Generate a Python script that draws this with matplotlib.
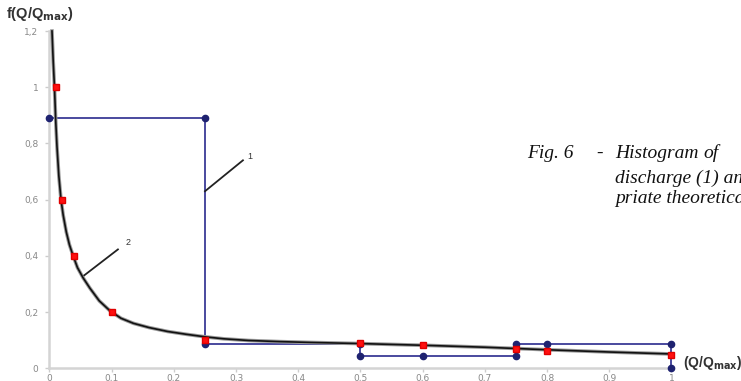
import matplotlib
matplotlib.use("Agg")
import matplotlib.pyplot as plt

# histogram of the observed discharge (1)
hist_x = [0, 0.25, 0.25, 0.5, 0.5, 0.6, 0.75, 0.75, 0.8, 1.0, 1.0]
hist_y = [0.89, 0.89, 0.085, 0.085, 0.043, 0.043, 0.043, 0.085, 0.085, 0.085, 0]

# empirical points
pts_x = [0.01, 0.02, 0.04, 0.1, 0.25, 0.5, 0.6, 0.75, 0.8, 1.0]
pts_y = [1.0, 0.6, 0.4, 0.2, 0.1, 0.09, 0.082, 0.068, 0.062, 0.047]

# theoretical curve (2)
curve_x = [0.004, 0.006, 0.008, 0.01, 0.012, 0.015, 0.0185, 0.022, 0.027, 0.032,
           0.038, 0.045, 0.054, 0.065, 0.08, 0.097, 0.115, 0.135, 0.16, 0.19,
           0.22, 0.25, 0.28, 0.32, 0.37, 0.42, 0.5, 0.6, 0.7, 0.8, 0.9, 1.0]
curve_y = [1.2, 1.09, 1.0, 0.88, 0.79, 0.685, 0.6, 0.545, 0.485, 0.44,
           0.4, 0.358, 0.322, 0.285, 0.24, 0.205, 0.178, 0.16, 0.145, 0.131,
           0.121, 0.112, 0.105, 0.099, 0.095, 0.092, 0.088, 0.082, 0.075, 0.066,
           0.058, 0.051]

x_ticks = [0, 0.1, 0.2, 0.3, 0.4, 0.5, 0.6, 0.7, 0.8, 0.9, 1.0]
y_ticks = [0, 0.2, 0.4, 0.6, 0.8, 1.0, 1.2]


def comma(v):
    s = "%g" % v
    return s.replace(".", ",")


fig = plt.figure(figsize=(7.41, 3.81), dpi=100)
ax = fig.add_axes([0.0668, 0.0333, 0.8394, 0.8853])

ax.plot(hist_x, hist_y, color="#3a3a96", linewidth=1.3, marker="o",
        markersize=4.5, markerfacecolor="#1e2270", markeredgecolor="#1e2270",
        clip_on=False, zorder=3)
ax.plot(curve_x, curve_y, color="#9a9a9a", linewidth=2.6, clip_on=False, zorder=4)
ax.plot(curve_x, curve_y, color="#111111", linewidth=1.2, clip_on=False, zorder=5)
ax.plot(pts_x, pts_y, linestyle="none", marker="s", markersize=5,
        markerfacecolor="#ff1010", markeredgecolor="#e00000", clip_on=False, zorder=6)

# leader lines for the labels
ax.plot([0.25, 0.311], [0.63, 0.74], color="#222222", linewidth=1.3, zorder=4)
ax.text(0.318, 0.745, "1", fontsize=6.5, color="#333333", family="Liberation Sans")
ax.plot([0.056, 0.11], [0.331, 0.423], color="#222222", linewidth=1.3, zorder=4)
ax.text(0.122, 0.44, "2", fontsize=6.5, color="#333333", family="Liberation Sans")

ax.set_xlim(0, 1.0)
ax.set_ylim(0, 1.2)
ax.set_xticks(x_ticks)
ax.set_xticklabels([comma(v) for v in x_ticks])
ax.set_yticks(y_ticks)
ax.set_yticklabels([comma(v) for v in y_ticks])
ax.tick_params(colors="#cccccc", labelcolor="#888888", labelsize=6.5,
               length=3, width=1, pad=5)
ax.tick_params(axis="x", pad=1)

for side in ["top", "right"]:
    ax.spines[side].set_visible(False)
for side in ["left", "bottom"]:
    ax.spines[side].set_color("#d4d4d4")
    ax.spines[side].set_linewidth(1.8)

fig.text(0.008, 0.962, r"f(Q/Q$_{\mathbf{max}}$)", fontsize=10.5, fontweight="bold",
         color="#333333", family="Liberation Sans", va="center")
fig.text(0.922, 0.047, r"(Q/Q$_{\mathbf{max}}$)", fontsize=10, fontweight="bold",
         color="#333333", family="Liberation Sans", va="center")

cap = dict(fontsize=14, style="italic", family="Liberation Serif", color="#111111",
           va="center")
fig.text(0.712, 0.597, "Fig. 6", **cap)
fig.text(0.805, 0.597, "-", **cap)
fig.text(0.830, 0.597, "Histogram", **cap)
fig.text(0.949, 0.597, "of", **cap)
fig.text(0.830, 0.532, "discharge (1) and", **cap)
fig.text(0.830, 0.48, "priate theoretical", **cap)

fig.savefig("out.png", dpi=100)
